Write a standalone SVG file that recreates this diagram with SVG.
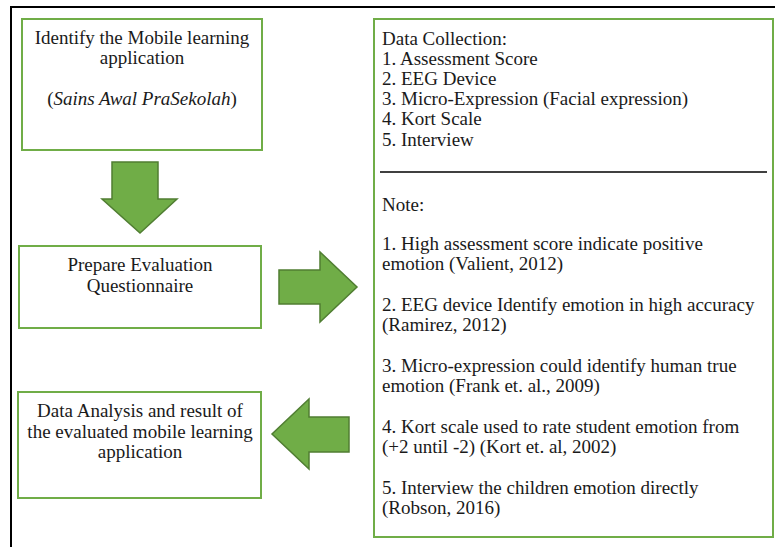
<svg xmlns="http://www.w3.org/2000/svg" width="775" height="547" viewBox="0 0 775 547">
<style>
.box{fill:#fff;stroke:#70ad47;stroke-width:2}
.arr{fill:#70ad47;stroke:#507e32;stroke-width:1.5;stroke-linejoin:miter}
.c{text-anchor:middle}
</style>
<rect width="775" height="547" fill="#fff"/>
<path d="M11 547 V7 H775" fill="none" stroke="#000" stroke-width="2"/>
<g id="node-identify">
<rect class="box" x="22" y="19" width="240" height="131"/>
<text class="c" x="142" y="44" font-family="Liberation Serif, serif" font-size="19" fill="#1a1a1a">Identify the Mobile learning</text>
<text class="c" x="142" y="64" font-family="Liberation Serif, serif" font-size="19" fill="#1a1a1a">application</text>
<text class="c" x="142" y="105" font-family="Liberation Serif, serif" font-size="19" fill="#1a1a1a">(<tspan font-style="italic">Sains Awal PraSekolah</tspan>)</text>
</g>
<g id="node-prepare">
<rect class="box" x="19" y="246" width="242" height="82"/>
<text class="c" x="140" y="271" font-family="Liberation Serif, serif" font-size="19" fill="#1a1a1a">Prepare Evaluation</text>
<text class="c" x="140" y="292" font-family="Liberation Serif, serif" font-size="19" fill="#1a1a1a">Questionnaire</text>
</g>
<g id="node-analysis">
<rect class="box" x="18" y="392" width="243" height="106"/>
<text class="c" x="140" y="417" font-family="Liberation Serif, serif" font-size="19" fill="#1a1a1a">Data Analysis and result of</text>
<text class="c" x="140" y="438" font-family="Liberation Serif, serif" font-size="19" fill="#1a1a1a">the evaluated mobile learning</text>
<text class="c" x="140" y="458" font-family="Liberation Serif, serif" font-size="19" fill="#1a1a1a">application</text>
</g>
<g id="node-data">
<rect class="box" x="374" y="19" width="399" height="518"/>
<text x="382" y="45" font-family="Liberation Serif, serif" font-size="19" fill="#1a1a1a">Data Collection:</text>
<text x="382" y="65" font-family="Liberation Serif, serif" font-size="19" fill="#1a1a1a">1. Assessment Score</text>
<text x="382" y="85" font-family="Liberation Serif, serif" font-size="19" fill="#1a1a1a">2. EEG Device</text>
<text x="382" y="105" font-family="Liberation Serif, serif" font-size="19" fill="#1a1a1a">3. Micro-Expression (Facial expression)</text>
<text x="382" y="125" font-family="Liberation Serif, serif" font-size="19" fill="#1a1a1a">4. Kort Scale</text>
<text x="382" y="146" font-family="Liberation Serif, serif" font-size="19" fill="#1a1a1a">5. Interview</text>
<line x1="380" y1="172" x2="767" y2="172" stroke="#000" stroke-width="1.5"/>
<text x="382" y="211" font-family="Liberation Serif, serif" font-size="19" fill="#1a1a1a">Note:</text>
<text x="382" y="250" font-family="Liberation Serif, serif" font-size="19" fill="#1a1a1a">1. High assessment score indicate positive</text>
<text x="382" y="270" font-family="Liberation Serif, serif" font-size="19" fill="#1a1a1a">emotion (Valient, 2012)</text>
<text x="382" y="311" font-family="Liberation Serif, serif" font-size="19" fill="#1a1a1a">2. EEG device Identify emotion in high accuracy</text>
<text x="382" y="331" font-family="Liberation Serif, serif" font-size="19" fill="#1a1a1a">(Ramirez, 2012)</text>
<text x="382" y="372" font-family="Liberation Serif, serif" font-size="19" fill="#1a1a1a">3. Micro-expression could identify human true</text>
<text x="382" y="392" font-family="Liberation Serif, serif" font-size="19" fill="#1a1a1a">emotion (Frank et. al., 2009)</text>
<text x="382" y="433" font-family="Liberation Serif, serif" font-size="19" fill="#1a1a1a">4. Kort scale used to rate student emotion from</text>
<text x="382" y="453" font-family="Liberation Serif, serif" font-size="19" fill="#1a1a1a">(+2 until -2) (Kort et. al, 2002)</text>
<text x="382" y="494" font-family="Liberation Serif, serif" font-size="19" fill="#1a1a1a">5. Interview the children emotion directly</text>
<text x="382" y="514" font-family="Liberation Serif, serif" font-size="19" fill="#1a1a1a">(Robson, 2016)</text>
</g>
<g id="connectors">
<path class="arr" d="M112 162 H158 V199 H177 L140 233 L102 199 H112 Z"/>
<path class="arr" d="M279 270 H320 V252 L357 287 L320 322 V304 H279 Z"/>
<path class="arr" d="M349 417 H309 V399 L272 434 L309 469 V452 H349 Z"/>
</g>
</svg>
